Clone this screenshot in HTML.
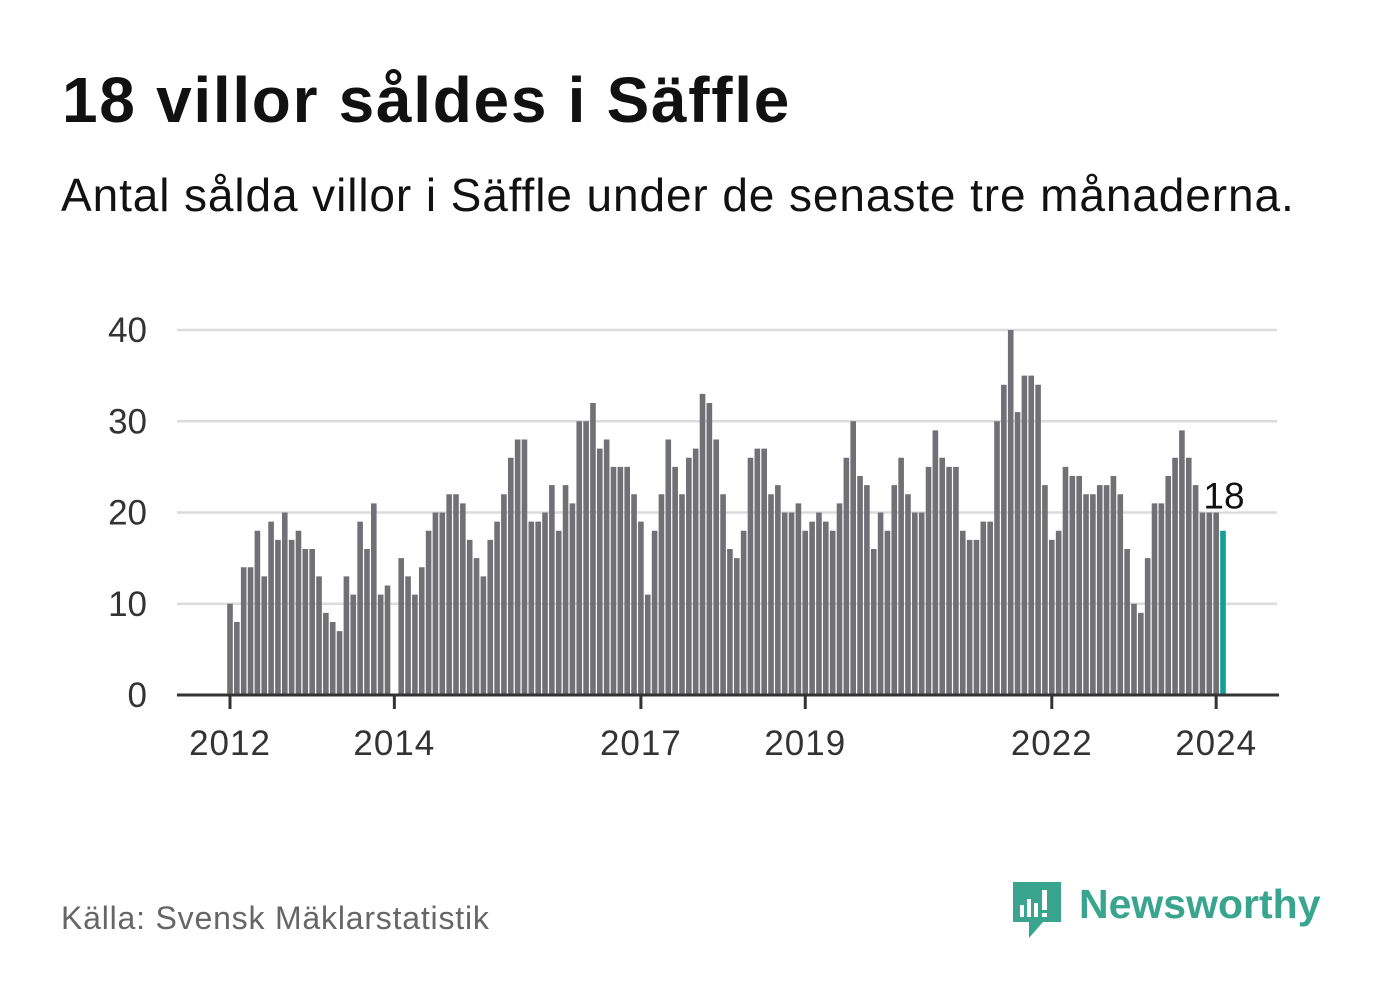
<!DOCTYPE html>
<html><head><meta charset="utf-8">
<style>
body{margin:0;background:#fff;width:1382px;height:999px;overflow:hidden;font-family:"Liberation Sans",sans-serif}
.t{position:absolute;left:62px;top:64px;font-size:64px;font-weight:bold;color:#111;margin:0;letter-spacing:1.7px;line-height:1.15}
.s{position:absolute;left:61px;top:168px;font-size:46px;color:#111;letter-spacing:0.9px}
.src{position:absolute;left:61px;top:900px;font-size:32px;color:#666;letter-spacing:0.8px}
</style></head><body>
<h1 class="t">18 villor såldes i Säffle</h1>
<div class="s">Antal sålda villor i Säffle under de senaste tre månaderna.</div>
<div class="src">Källa: Svensk Mäklarstatistik</div>
<svg id="chart" width="1382" height="999" style="position:absolute;left:0;top:0">
<g id="grid"></g><g id="bars"></g><g id="axis"></g>
<g>
<path d="M1013 882 h48 v40 h-18 l-14 16 v-16 h-16 z" fill="#3aa58f"/>
<rect x="1020" y="905" width="4" height="12" fill="#fff"/>
<rect x="1027" y="899" width="4" height="18" fill="#fff"/>
<rect x="1034" y="903" width="4" height="14" fill="#fff"/>
<rect x="1042" y="890" width="5" height="20" fill="#fff"/>
<rect x="1042" y="913" width="5" height="4" fill="#fff"/>
<text x="1079" y="918" font-size="41" font-weight="bold" fill="#3aa58f" font-family="Liberation Sans, sans-serif">Newsworthy</text>
</g>
</svg>
<script>
const values=[10,8,14,14,18,13,19,17,20,17,18,16,
16,13,9,8,7,13,11,19,16,21,11,12,
0,15,13,11,14,18,20,20,22,22,21,17,
15,13,17,19,22,26,28,28,19,19,20,23,
18,23,21,30,30,32,27,28,25,25,25,22,
19,11,18,22,28,25,22,26,27,33,32,28,
22,16,15,18,26,27,27,22,23,20,20,21,
18,19,20,19,18,21,26,30,24,23,16,20,
18,23,26,22,20,20,25,29,26,25,25,18,
17,17,19,19,30,34,40,31,35,35,34,23,
17,18,25,24,24,22,22,23,23,24,22,16,
10,9,15,21,21,24,26,29,26,23,20,20,20,18];
const yTicks=[0,10,20,30,40];
const xTickLabels=["2012","2014","2017","2019","2022","2024"];
const xTickIndex=[0,24,60,84,120,144];
const lastLabel="18";
const NS="http://www.w3.org/2000/svg";
const x0=230,step=(1223-230)/145,y0=695,yk=365/40,bw=5.6;
const X=i=>x0+i*step, Y=v=>y0-v*yk;
function mk(t,a,p){const e=document.createElementNS(NS,t);for(const k in a)e.setAttribute(k,a[k]);p.appendChild(e);return e;}
const grid=document.getElementById('grid'),bars=document.getElementById('bars'),axis=document.getElementById('axis');
yTicks.forEach(v=>{
 if(v>0){const l=mk('line',{x1:177,x2:1277,y1:Y(v),y2:Y(v),stroke:'#dcdcdc','stroke-width':2.5},grid);
 
 }
 const t=mk('text',{x:147,y:Y(v)+12,'text-anchor':'end','font-size':35,fill:'#333'},grid);
 t.textContent=v;
 
 
});
values.forEach((v,i)=>{
 if(!v)return;
 const last=i===values.length-1;
 const r=mk('rect',{x:X(i)-bw/2,y:Y(v),width:bw,height:v*yk,fill:last?'#12a093':'#707075'},bars);
 
 
});
const li=values.length-1;
const lab=mk('text',{x:X(li)+1,y:Y(values[li-1])-4,'text-anchor':'middle','font-size':37,fill:'#111',stroke:'#fff','stroke-width':6,'paint-order':'stroke'},axis);
lab.textContent=lastLabel;


const ax=mk('line',{x1:177,x2:1279,y1:y0,y2:y0,stroke:'#333','stroke-width':3},axis);


xTickIndex.forEach((ix,k)=>{
 const tk=mk('line',{x1:X(ix),x2:X(ix),y1:y0,y2:y0+14,stroke:'#333','stroke-width':3},axis);
 
 
 const t=mk('text',{x:X(ix),y:755,'text-anchor':'middle','font-size':35,'letter-spacing':1,fill:'#333'},axis);
 t.textContent=xTickLabels[k];
 
 
});
</script>
</body></html>
